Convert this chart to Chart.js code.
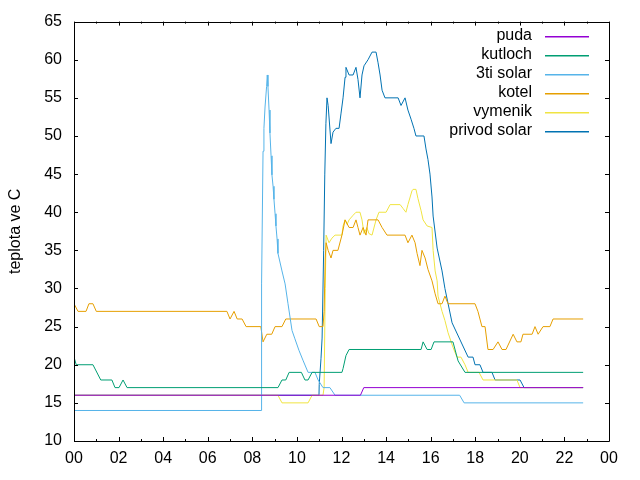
<!DOCTYPE html>
<html>
<head>
<meta charset="utf-8">
<script src="https://cdn.jsdelivr.net/npm/chart.js@4.4.1/dist/chart.umd.min.js"></script>
<style>
  html, body { margin: 0; background: #fff; }
</style>
</head>
<body>
<canvas id="chart" width="640" height="480"></canvas>
<script>
// [hour, temperature] pairs
const puda = [[0,16],[12.85,16],[13.0,17],[22.84,17]];

const kutloch = [[0,21],[0.1,20],[0.85,20],[1.2,18],[1.7,18],[1.84,17],[2.02,17],[2.2,18],[2.38,17],
  [9.15,17],[9.33,18],[9.5,18],[9.65,19],[10.2,19],[10.36,18],[10.5,18],[10.68,19],[12.02,19],
  [12.07,19.5],[12.2,21.2],[12.34,22],[15.57,22],[15.66,23],[15.84,22],[16.02,22],[16.15,23],
  [17.0,23],[17.23,20.5],[17.54,19],[22.84,19]];

const solar3ti = [[0,14],[8.39,14],[8.4,19.6],[8.43,30.6],[8.48,48],[8.52,51],[8.57,53.8],[8.64,56.5],
  [8.67,58],[8.7,56.5],[8.75,53.4],[8.79,50.4],[8.84,47.4],[8.88,44.9],[8.93,43.4],[8.97,41.7],
  [9.02,39.8],[9.06,38.2],[9.11,36.5],[9.15,34.6],[9.33,32.3],[9.47,30.6],[9.6,28],[9.78,24.5],
  [9.91,23.4],[10.09,21.9],[10.27,20.6],[10.5,19],[10.81,19],[10.95,18],[11.17,17],[11.48,17],
  [11.71,16],[17.3,16],[17.5,15],[22.84,15]];

const kotel = [[0,28],[0.18,27],[0.54,27],[0.67,28],[0.85,28],[1.0,27],[6.86,27],[7.0,26],[7.18,27],
  [7.32,26],[7.54,26],[7.72,25],[8.38,25],[8.48,23],[8.65,24],[8.87,24],[9.02,25],[9.33,25],[9.5,26],
  [10.86,26],[11.0,25],[11.17,25],[11.22,27],[11.27,34],[11.31,36],[11.4,35],[11.53,34],[11.62,35],
  [11.84,35],[12.02,37],[12.16,39],[12.25,38.5],[12.34,38],[12.52,38],[12.65,39],[12.74,38],
  [12.83,37],[12.97,38],[13.1,37],[13.19,39],[13.64,39],[13.82,38],[14.04,37],[14.85,37],[14.98,36],
  [15.16,37],[15.3,36],[15.39,34.6],[15.52,33],[15.61,35],[15.75,34],[15.88,32.5],[16.06,31],
  [16.2,29.3],[16.33,28],[16.51,28],[16.64,29],[16.78,28],[17.99,28],[18.12,27],[18.3,25],[18.44,25],
  [18.57,22],[18.8,22],[19.02,23],[19.2,22],[19.38,22],[19.7,24],[19.87,23],[20.05,23],[20.14,24],
  [20.55,24],[20.68,25],[20.82,24],[21.04,25],[21.35,25],[21.49,26],[22.84,26]];

const vymenik = [[0,16],[9.15,16],[9.33,15],[10.5,15],[10.68,16],[11.17,16],[11.22,17],[11.27,30],
  [11.31,37],[11.44,36],[11.57,36.6],[11.71,37],[12.02,37],[12.07,38.2],[12.16,39],[12.25,38.4],
  [12.34,39],[12.52,39.6],[12.65,40],[12.83,40],[12.92,39],[13.01,37.2],[13.14,38],[13.23,37.2],
  [13.37,37],[13.55,39],[13.68,40],[14.0,40],[14.18,41],[14.63,41],[14.76,40.5],[14.89,40],[14.98,41],
  [15.16,42.8],[15.21,43],[15.34,43],[15.43,41.8],[15.57,40.2],[15.66,39],[15.84,38.2],[16.06,38],
  [16.11,35],[16.2,32.3],[16.29,31],[16.33,29],[16.42,28],[16.51,27],[16.64,25.8],[16.78,24.2],
  [17.0,22.3],[17.18,21],[17.36,21],[17.54,20],[17.68,19],[18.17,19],[18.35,18],[19.87,18],
  [20.01,17],[22.84,17]];

const privodSolar = [[0,16],[10.99,16],[11.0,17.4],[11.08,20.8],[11.13,23.5],[11.2,35],[11.25,45],
  [11.3,51.6],[11.35,55],[11.4,54],[11.53,49],[11.62,50.5],[11.75,51],[11.89,51],[11.98,53],
  [12.07,55],[12.16,57.7],[12.2,59],[12.34,58],[12.52,58],[12.65,59],[12.74,57.4],[12.83,55],
  [12.92,58],[13.01,59.2],[13.19,60],[13.37,61],[13.55,61],[13.64,59.6],[13.73,58],[13.82,56],
  [13.95,55],[14.54,55],[14.67,54],[14.85,55],[14.98,53.4],[15.12,52.2],[15.25,51],[15.34,50],
  [15.7,50],[15.79,48.3],[15.88,46.9],[15.97,45],[16.06,42],[16.11,39.5],[16.29,35.3],[16.51,32.3],
  [16.64,30],[16.96,25.5],[17.68,21],[17.9,21],[17.99,20],[18.21,20],[18.35,19],[18.75,19],
  [18.89,18],[20.01,18],[20.19,17],[22.84,17]];

const seriesNames = ['puda', 'kutloch', '3ti solar', 'kotel', 'vymenik', 'privod solar'];
const seriesData = [puda, kutloch, solar3ti, kotel, vymenik, privodSolar];
const seriesColors = ['#9400d3', '#009e73', '#56b4e9', '#e69f00', '#f0e442', '#0072b2'];

const FONT = '"Liberation Sans", Arial, sans-serif';

// gnuplot style frame, inward ticks and legend inside the plot
const gnuplotFrame = {
  id: 'gnuplotFrame',
  afterDraw(chart) {
    const { ctx, chartArea: a, scales } = chart;
    ctx.save();
    ctx.strokeStyle = '#000';
    ctx.lineWidth = 1;
    ctx.beginPath();
    ctx.rect(Math.round(a.left) + 0.5, Math.round(a.top) + 0.5,
      Math.round(a.right - a.left), Math.round(a.bottom - a.top));
    for (let h = 0; h <= 24; h++) {
      const x = Math.round(scales.x.getPixelForValue(h)) + 0.5;
      const len = h % 2 === 0 ? 4 : 2;
      ctx.moveTo(x, a.bottom); ctx.lineTo(x, a.bottom - len);
      ctx.moveTo(x, a.top); ctx.lineTo(x, a.top + len);
    }
    for (let v = 10; v <= 65; v += 5) {
      const y = Math.round(scales.y.getPixelForValue(v)) + 0.5;
      ctx.moveTo(a.left, y); ctx.lineTo(a.left + 4, y);
      ctx.moveTo(a.right, y); ctx.lineTo(a.right - 4, y);
    }
    ctx.stroke();

    ctx.font = '16px ' + FONT;
    ctx.textAlign = 'right';
    ctx.textBaseline = 'middle';
    seriesNames.forEach((name, i) => {
      const y = Math.round(a.top + 14 + i * 19);
      ctx.fillStyle = '#000';
      ctx.fillText(name, a.right - 77, y);
      ctx.fillStyle = seriesColors[i];
      ctx.fillRect(a.right - 64, y, 44, 1.5);
    });
    ctx.restore();
  }
};

new Chart(document.getElementById('chart'), {
  type: 'line',
  data: {
    datasets: seriesNames.map((name, i) => ({
      label: name,
      data: seriesData[i].map(p => ({ x: p[0], y: p[1] })),
      borderColor: seriesColors[i],
      borderWidth: 1,
      pointRadius: 0,
      tension: 0,
      fill: false
    }))
  },
  options: {
    responsive: false,
    animation: false,
    layout: { padding: { top: 19, right: 31, left: 0, bottom: 0 } },
    plugins: { legend: { display: false }, tooltip: { enabled: false } },
    scales: {
      x: {
        type: 'linear',
        min: 0,
        max: 24,
        grid: { display: false, drawTicks: false },
        border: { display: false },
        afterFit: s => { s.height = 39; },
        ticks: {
          stepSize: 2,
          padding: 8,
          color: '#000',
          font: { family: FONT, size: 16 },
          maxRotation: 0,
          callback: v => String(v % 24).padStart(2, '0')
        }
      },
      y: {
        min: 10,
        max: 65,
        grid: { display: false, drawTicks: false },
        border: { display: false },
        afterFit: s => { s.width = 74; },
        title: {
          display: true,
          text: 'teplota ve C',
          color: '#000',
          font: { family: FONT, size: 16 },
          padding: { top: 6, bottom: 0 }
        },
        ticks: {
          stepSize: 5,
          padding: 12,
          color: '#000',
          font: { family: FONT, size: 16 }
        }
      }
    }
  },
  plugins: [gnuplotFrame]
});
</script>
</body>
</html>
